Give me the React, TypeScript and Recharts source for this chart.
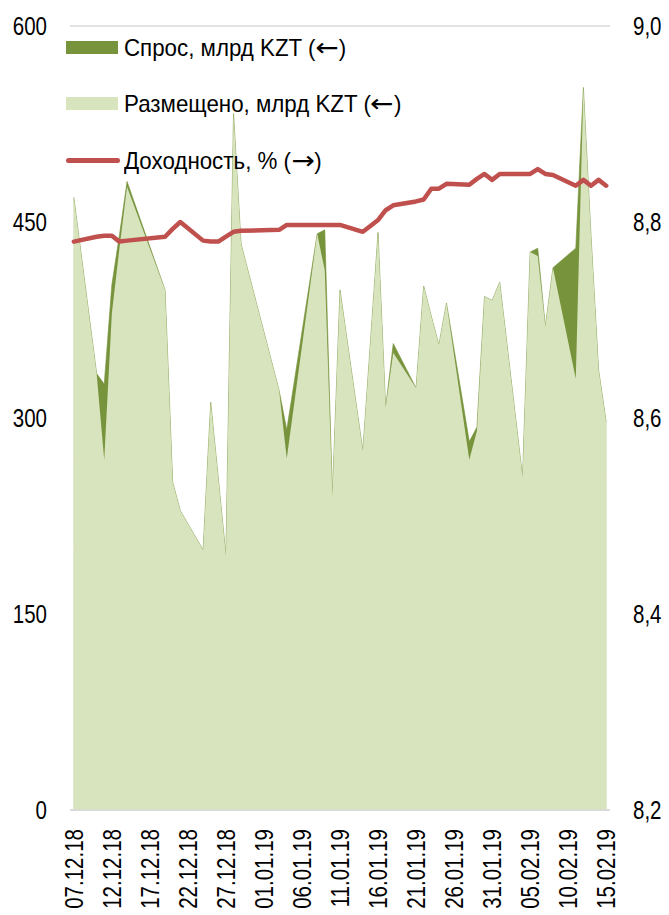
import { ComposedChart, Area, Line, XAxis, YAxis, CartesianGrid, Legend } from 'recharts';

const FONT = '"Liberation Sans", Arial, sans-serif';
const NARROW = 0.82; // the original uses a condensed face

// trading days
const DATES = [
  '07.12.18', '10.12.18', '11.12.18', '12.12.18', '13.12.18', '14.12.18',
  '19.12.18', '20.12.18', '21.12.18', '24.12.18', '25.12.18', '26.12.18', '27.12.18', '28.12.18', '29.12.18',
  '03.01.19', '04.01.19', '08.01.19', '09.01.19', '10.01.19', '11.01.19',
  '14.01.19', '15.01.19', '16.01.19', '17.01.19', '18.01.19',
  '21.01.19', '22.01.19', '23.01.19', '24.01.19', '25.01.19',
  '28.01.19', '29.01.19', '30.01.19', '31.01.19', '01.02.19',
  '04.02.19', '05.02.19', '06.02.19', '07.02.19', '08.02.19',
  '11.02.19', '12.02.19', '13.02.19', '14.02.19', '15.02.19',
];

// Спрос, млрд KZT
const DEMAND = [
  469, 334, 326, 402, 440, 481,
  398, 251, 229, 199, 312, 254, 195, 533, 433,
  321, 291, 441, 444, 241, 398,
  275, 358, 442, 308, 357,
  323, 401, 378, 356, 388,
  282, 293, 393, 390, 404,
  255, 427, 430, 370, 415,
  430, 553, 440, 337, 297,
];

// Размещено, млрд KZT
const PLACED = [
  469, 334, 268, 380, 430, 477,
  398, 251, 229, 199, 312, 254, 195, 533, 433,
  321, 269, 441, 413, 241, 398,
  275, 358, 442, 308, 350,
  323, 401, 378, 356, 388,
  268, 290, 393, 390, 404,
  255, 427, 424, 370, 415,
  330, 553, 440, 337, 297,
];

// Доходность, %
const YIELDS = [
  8.780, 8.785, 8.786, 8.786, 8.780, 8.781,
  8.785, 8.793, 8.800, 8.781, 8.780, 8.780, 8.785, 8.790, 8.791,
  8.792, 8.797, 8.797, 8.797, 8.797, 8.797,
  8.790, 8.796, 8.802, 8.812, 8.817,
  8.821, 8.823, 8.834, 8.834, 8.839,
  8.838, 8.844, 8.849, 8.843, 8.849,
  8.849, 8.849, 8.854, 8.849, 8.848,
  8.837, 8.843, 8.837, 8.843, 8.837,
];

const DATE_TICKS = [
  '07.12.18', '12.12.18', '17.12.18', '22.12.18', '27.12.18', '01.01.19', '06.01.19', '11.01.19',
  '16.01.19', '21.01.19', '26.01.19', '31.01.19', '05.02.19', '10.02.19', '15.02.19',
];
const LEFT_TICKS = [0, 150, 300, 450, 600];
const RIGHT_TICKS = [8.2, 8.4, 8.6, 8.8, 9.0];

const LEGEND_ITEMS = [
  { text: 'Спрос, млрд KZT (', arrow: '←', color: '#77933C', kind: 'box' },
  { text: 'Размещено, млрд KZT (', arrow: '←', color: '#D7E4BD', kind: 'box' },
  { text: 'Доходность, % (', arrow: '→', color: '#C0504D', kind: 'line' },
];

function toDay(s: string): number {
  const [d, m, y] = s.split('.').map(Number);
  return Date.UTC(2000 + y, m - 1, d) / 86400000;
}

const labelByDay: Record<number, string> = {};
DATE_TICKS.forEach((t) => {
  labelByDay[toDay(t)] = t;
});

const data = DATES.map((d, i) => ({
  day: toDay(d),
  demand: DEMAND[i],
  placed: PLACED[i],
  yld: YIELDS[i],
}));

const firstDay = toDay(DATES[0]);
const lastDay = toDay(DATES[DATES.length - 1]);

function DateTick({ x, y, payload }: any) {
  return (
    <g transform={`translate(${x},${y}) rotate(-90) scale(${NARROW},1)`}>
      <text x={0} y={0} textAnchor="end" dy="0.36em" fontSize={25} fontFamily={FONT} fill="#000">
        {labelByDay[payload.value]}
      </text>
    </g>
  );
}

function ValueTick({ x, y, payload, anchor, fmt }: any) {
  return (
    <g transform={`translate(${x},${y}) scale(${NARROW},1)`}>
      <text x={0} y={0} textAnchor={anchor} dy="0.36em" fontSize={25} fontFamily={FONT} fill="#000">
        {fmt(payload.value)}
      </text>
    </g>
  );
}

function LegendBox() {
  return (
    <div style={{ position: 'relative', width: 360, height: 150, fontFamily: FONT }}>
      {LEGEND_ITEMS.map((it, i) => (
        <div
          key={it.text}
          style={{ position: 'absolute', left: 0, top: i * 56.5, height: 26, display: 'flex', alignItems: 'center' }}
        >
          {it.kind === 'box' ? (
            <div style={{ width: 52, height: 13, background: it.color }} />
          ) : (
            <div style={{ width: 54, height: 5, borderRadius: 3, background: it.color }} />
          )}
          <span
            style={{
              fontSize: 24,
              color: '#000',
              marginLeft: it.kind === 'box' ? 6 : 4,
              whiteSpace: 'nowrap',
              display: 'inline-block',
              transform: 'scaleX(0.93)',
              transformOrigin: 'left center',
            }}
          >
            {it.text}
            <span style={{ fontFamily: '"DejaVu Sans", sans-serif', fontSize: 25, display: 'inline-block', transform: 'scaleX(1.2)', margin: '0 2px' }}>
              {it.arrow}
            </span>
            )
          </span>
        </div>
      ))}
    </div>
  );
}

export default function App() {
  return (
    <div style={{ position: 'absolute', left: 0, top: 0, width: 669, height: 915, background: '#fff' }}>
      <ComposedChart width={669} height={915} data={data} margin={{ top: 26, right: 0, bottom: 0, left: 0 }}>
        <CartesianGrid horizontal vertical={false} stroke="#D9D9D9" strokeWidth={1.5} />
        <XAxis
          dataKey="day"
          type="number"
          domain={[firstDay - 0.5, lastDay + 0.5]}
          ticks={DATE_TICKS.map(toDay)}
          interval={0}
          height={105}
          tickSize={0}
          tickMargin={19}
          tickLine={false}
          axisLine={{ stroke: '#D9D9D9', strokeWidth: 1.5 }}
          tick={<DateTick />}
        />
        <YAxis
          yAxisId="left"
          domain={[0, 600]}
          ticks={LEFT_TICKS}
          interval={0}
          width={70}
          tickSize={0}
          tickMargin={23}
          axisLine={false}
          tickLine={false}
          tick={<ValueTick anchor="end" fmt={(v: number) => String(v)} />}
        />
        <YAxis
          yAxisId="right"
          orientation="right"
          domain={[8.2, 9.0]}
          ticks={RIGHT_TICKS}
          interval={0}
          width={59}
          tickSize={0}
          tickMargin={23}
          axisLine={false}
          tickLine={false}
          tick={<ValueTick anchor="start" fmt={(v: number) => v.toFixed(1).replace('.', ',')} />}
        />
        <Legend
          layout="vertical"
          align="center"
          verticalAlign="middle"
          content={() => <LegendBox />}
          wrapperStyle={{ position: 'absolute', left: 66, top: 34, width: 360 }}
        />
        <Area
          yAxisId="left"
          type="linear"
          dataKey="demand"
          fill="#77933C"
          fillOpacity={1}
          stroke="#77933C"
          strokeWidth={0.6}
          isAnimationActive={false}
          dot={false}
          activeDot={false}
        />
        <Area
          yAxisId="left"
          type="linear"
          dataKey="placed"
          fill="#D7E4BD"
          fillOpacity={1}
          stroke="none"
          isAnimationActive={false}
          dot={false}
          activeDot={false}
        />
        <Line
          yAxisId="right"
          type="linear"
          dataKey="yld"
          stroke="#C0504D"
          strokeWidth={4.5}
          strokeLinejoin="round"
          strokeLinecap="round"
          dot={false}
          activeDot={false}
          isAnimationActive={false}
        />
      </ComposedChart>
    </div>
  );
}
